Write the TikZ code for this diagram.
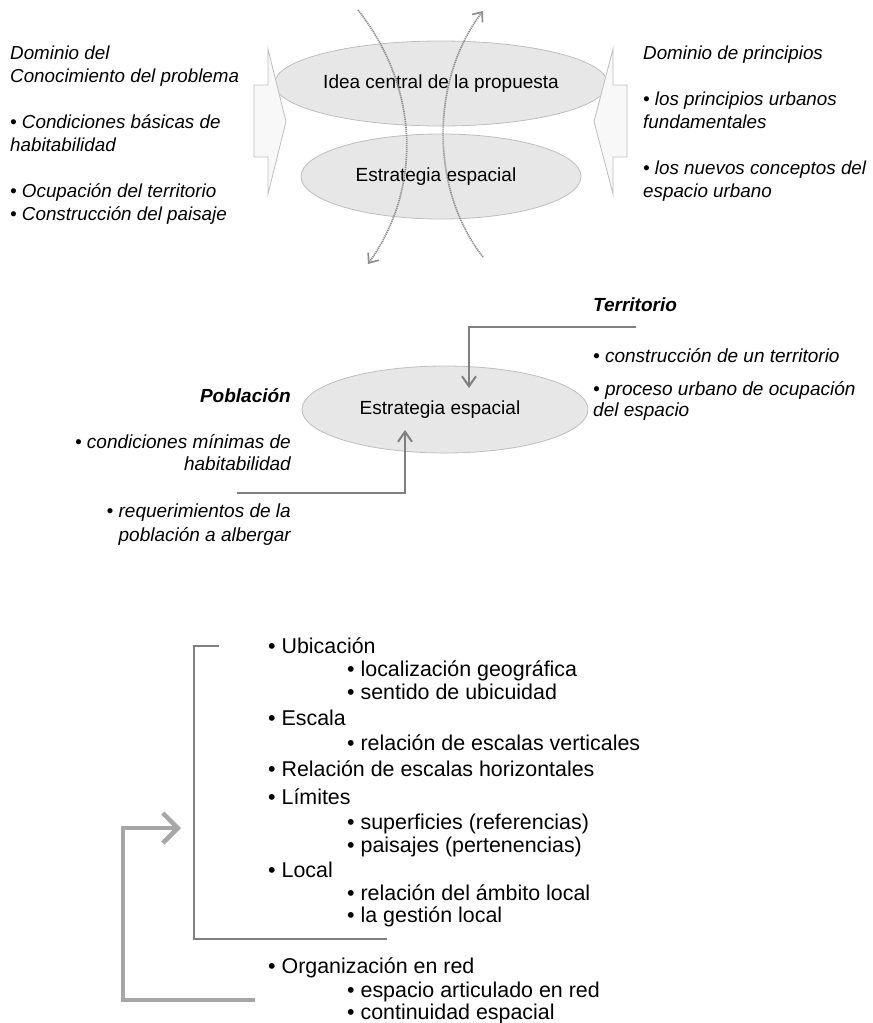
\documentclass[tikz,border=0pt]{standalone}
\usepackage{fontspec}
\setmainfont{Liberation Sans}
\usepackage{tikz}
\usetikzlibrary{arrows.meta, shapes.geometric, positioning, calc}
\usepackage{xcolor}
\definecolor{ellfill}{HTML}{E7E7E7}
\definecolor{ellline}{HTML}{BEBEBE}
\definecolor{arrfill}{HTML}{F8F8F8}
\definecolor{linegray}{HTML}{808080}
\definecolor{thickgray}{HTML}{A6A6A6}
\definecolor{dotgray}{HTML}{8E8E8E}

\begin{document}
\begin{tikzpicture}[x=1pt, y=-1pt,
  oval/.style={draw=ellline, fill=ellfill, line width=0.8pt, ellipse, inner sep=0pt,
    font=\fontsize{19}{23}\selectfont},
  blockarr/.style={draw=ellline, fill=arrfill, line width=0.8pt},
  toptxt/.style={inner sep=0pt, font=\fontsize{18.8}{23}\selectfont\itshape},
  midtxt/.style={inner sep=0pt, font=\fontsize{19}{23}\selectfont\itshape},
  headtxt/.style={inner sep=0pt, font=\fontsize{19}{23}\selectfont\bfseries\itshape},
  listtxt/.style={inner sep=0pt, font=\fontsize{21.4}{24}\selectfont, anchor=base west},
  conn/.style={draw=linegray, line width=2pt, -{Straight Barb[length=10pt,width=14pt]}},
  bracket/.style={draw=linegray, line width=1.4pt},
  backarr/.style={draw=thickgray, line width=4.5pt, -{Straight Barb[length=15pt,width=30pt]}},
  flow/.style={draw=dotgray, line width=1.7pt, dash pattern=on 1.2pt off 0.8pt,
    -{Straight Barb[length=8pt,width=13pt]}}]
  \useasboundingbox (0,0) rectangle (873,1023);

  % top: the two ovals between the two domains
  \node[oval, minimum width=280pt, minimum height=85pt] (idea) at (441,83.5)
    {Idea central de la propuesta};
  \node[oval, minimum width=280pt, minimum height=85pt] (estrA) at (441,176.5)
    {Estrategia espacial\hspace*{10pt}};

  \draw[blockarr] (254,85) -- (268,85) -- (268,49) -- (286,121.5)
    -- (268,194) -- (268,157) -- (254,157) -- cycle;
  \draw[blockarr] (627,85) -- (613,85) -- (613,49) -- (594,121.5)
    -- (613,194) -- (613,157) -- (627,157) -- cycle;

  \foreach \yy/\txt [count=\i] in {59/Dominio del, 82/Conocimiento del problema,
      128/• Condiciones básicas de, 151/habitabilidad,
      197/• Ocupación del territorio, 220/• Construcción del paisaje}
    \node[toptxt, anchor=base west] (con\i) at (10,\yy) {\txt};
  \foreach \yy/\txt [count=\i] in {59/Dominio de principios,
      105/• los principios urbanos, 128/fundamentales,
      174/• los nuevos conceptos del, 197/espacio urbano}
    \node[toptxt, anchor=base west] (pri\i) at (643,\yy) {\txt};

  % crossing flows
  \coordinate (flowAs) at (358,10);
  \coordinate (flowAe) at (368,264);
  \coordinate (flowBs) at (483,257);
  \coordinate (flowBe) at (483,11);
  \draw[flow] (flowAs) .. controls (421,90) and (421,190) .. (flowAe);
  \draw[flow] (flowBs) .. controls (430,190) and (430,80) .. (flowBe);

  % middle: population and territory
  \node[oval, minimum width=286pt, minimum height=87pt] (estrB) at (445,409.5)
    {Estrategia espacial\hspace*{10pt}};

  \node[headtxt, anchor=base west] (terr) at (593,311) {Territorio};
  \node[midtxt, anchor=base west] (terr1) at (593,362) {• construcción de un territorio};
  \node[midtxt, anchor=base west] (terr2) at (593,395) {• proceso urbano de ocupación};
  \node[midtxt, anchor=base west] (terr3) at (593,416) {del espacio};

  \node[headtxt, anchor=base east] (pob) at (291,402) {Población};
  \node[midtxt, anchor=base east] (pob1) at (291,448) {• condiciones mínimas de};
  \node[midtxt, anchor=base east] (pob2) at (291,470) {habitabilidad};
  \node[midtxt, anchor=base east] (pob3) at (291,517) {• requerimientos de la};
  \node[midtxt, anchor=base east] (pob4) at (291,541) {población a albergar};

  \coordinate (terrin) at (636,327);
  \coordinate (terrtip) at (469,388);
  \coordinate (pobin) at (237,493);
  \coordinate (pobtip) at (405,430);
  \draw[conn] (terrin) -| (terrtip);
  \draw[conn] (pobin) -| (pobtip);

  % bottom: list of components
  \foreach \yy/\xx/\txt [count=\i] in {653/268/Ubicación,
      676/347/localización geográfica, 699/347/sentido de ubicuidad,
      725/268/Escala, 750/347/relación de escalas verticales,
      776/268/Relación de escalas horizontales, 804/268/Límites,
      829/347/superficies (referencias), 852/347/paisajes (pertenencias),
      877/268/Local, 900/347/relación del ámbito local, 922/347/la gestión local,
      973/268/Organización en red, 997/347/espacio articulado en red,
      1019/347/continuidad espacial}
    \node[listtxt] (item\i) at (\xx,\yy) {• \txt};

  \coordinate (brtop) at (219,646);
  \coordinate (brbot) at (387,939);
  \draw[bracket] (brtop) -- ++(-25,0) |- (brbot);

  \coordinate (orgin) at (255,1000);
  \coordinate (brin) at (181,828);
  \draw[backarr] (orgin) -- ++(-132,0) |- (brin);
\end{tikzpicture}
\end{document}
